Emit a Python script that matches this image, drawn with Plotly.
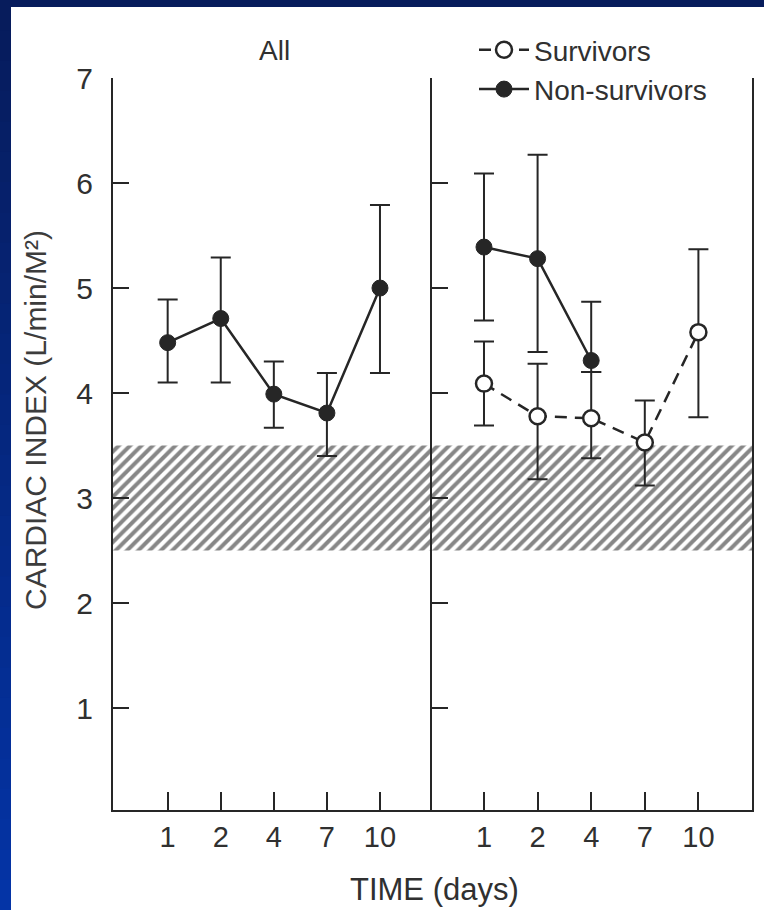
import plotly.graph_objects as go

# ---------------- data ----------------
days = ["1", "2", "4", "7", "10"]

all_mean = [4.48, 4.71, 3.99, 3.81, 5.00]
all_upper = [4.89, 5.29, 4.30, 4.19, 5.79]
all_lower = [4.10, 4.10, 3.67, 3.40, 4.19]

surv_mean = [4.09, 3.78, 3.76, 3.53, 4.58]
surv_upper = [4.49, 4.28, 4.20, 3.93, 5.37]
surv_lower = [3.69, 3.18, 3.38, 3.12, 3.77]

non_days = ["1", "2", "4"]
non_mean = [5.39, 5.28, 4.31]
non_upper = [6.09, 6.27, 4.87]
non_lower = [4.69, 4.39, 4.20]

normal_low = 2.5
normal_high = 3.5

y_ticks = [1, 2, 3, 4, 5, 6, 7]

# ---------------- layout constants ----------------
W, H = 764, 910
INK = "#262626"
TXT = "#303030"
FONT = "Liberation Sans, Arial, Helvetica, sans-serif"

def px_x(p):
    return p / W

def px_y(p):
    return 1 - p / H

xr_left = [-1.03, 4.98]
xr_right = [-0.97, 5.0]
yr = [0.03, 7]

xi = list(range(len(days)))
idx = {d: i for i, d in enumerate(days)}
non_x = [idx[d] for d in non_days]

def err(mean, up, lo):
    return dict(type="data", symmetric=False,
                array=[u - m for u, m in zip(up, mean)],
                arrayminus=[m - l for m, l in zip(mean, lo)],
                color=INK, thickness=2, width=10)

fig = go.Figure()

# hatched normal range in both panels
for xa, ya, xr in (("x", "y", xr_left), ("x2", "y2", xr_right)):
    fig.add_trace(go.Scatter(
        x=[xr[0], xr[1], xr[1], xr[0]],
        y=[normal_low, normal_low, normal_high, normal_high],
        xaxis=xa, yaxis=ya, mode="lines", fill="toself",
        line=dict(width=0, color="rgba(0,0,0,0)"),
        fillpattern=dict(shape="/", size=8, solidity=0.5,
                         fgcolor="#101010", bgcolor="rgba(255,255,255,0)"),
        showlegend=False, hoverinfo="skip"))

# left panel: All
fig.add_trace(go.Scatter(
    x=xi, y=all_mean, xaxis="x", yaxis="y", mode="lines+markers",
    line=dict(color=INK, width=2.5),
    marker=dict(size=16, color=INK, line=dict(width=1, color=INK)),
    error_y=err(all_mean, all_upper, all_lower),
    showlegend=False, name="All"))

# right panel
fig.add_trace(go.Scatter(
    x=xi, y=surv_mean, xaxis="x2", yaxis="y2", mode="lines+markers",
    name="Survivors",
    line=dict(color=INK, width=2.5, dash="12px,8px"),
    marker=dict(size=16, color="white", line=dict(width=2.5, color=INK)),
    error_y=err(surv_mean, surv_upper, surv_lower)))

fig.add_trace(go.Scatter(
    x=non_x, y=non_mean, xaxis="x2", yaxis="y2", mode="lines+markers",
    name="Non-survivors",
    line=dict(color=INK, width=2.5),
    marker=dict(size=16, color=INK, line=dict(width=1, color=INK)),
    error_y=err(non_mean, non_upper, non_lower)))

axis_common = dict(showgrid=False, zeroline=False, showline=True,
                   linecolor=INK, linewidth=2, ticks="inside",
                   tickcolor=INK, tickwidth=2, automargin=False)

xdom_l = [px_x(113), px_x(432)]
xdom_r = [px_x(432), px_x(752)]
ydom = [px_y(810), px_y(78)]

shapes = []
# blue frame
shapes.append(dict(type="rect", xref="paper", yref="paper", x0=0, x1=1,
                   y0=px_y(7), y1=1, fillcolor="#071c5c", line=dict(width=0),
                   layer="below"))
n = 30
for k in range(n):
    t = k / (n - 1)
    r = int(7 + (4 - 7) * t)
    g = int(28 + (52 - 28) * t)
    b = int(92 + (166 - 92) * t)
    shapes.append(dict(type="rect", xref="paper", yref="paper",
                       x0=0, x1=px_x(11),
                       y0=max(0, 1 - (k + 1) / n - 0.004), y1=1 - k / n,
                       fillcolor=f"rgb({r},{g},{b})", line=dict(width=0),
                       layer="below"))

fig.update_layout(
    width=W, height=H, autosize=False,
    margin=dict(l=0, r=0, t=0, b=0, pad=0, autoexpand=False),
    paper_bgcolor="white", plot_bgcolor="rgba(0,0,0,0)",
    font=dict(family=FONT, color=TXT, size=28),
    shapes=shapes,
    xaxis=dict(domain=xdom_l, anchor="y", range=xr_left, tickvals=xi,
               ticktext=days, ticklen=18, tickfont=dict(size=29),
               ticklabelstandoff=0, **axis_common),
    xaxis2=dict(domain=xdom_r, anchor="y2", range=xr_right, tickvals=xi,
                ticktext=days, ticklen=18, tickfont=dict(size=29),
                ticklabelstandoff=0, **axis_common),
    yaxis=dict(domain=ydom, anchor="x", range=yr, tickvals=y_ticks,
               ticklen=16, tickfont=dict(size=30), ticklabelstandoff=12,
               **axis_common),
    yaxis2=dict(domain=ydom, anchor="x2", range=yr, tickvals=y_ticks,
                ticklen=16, showticklabels=False, mirror=True,
                **axis_common),
    legend=dict(x=px_x(474), y=px_y(25), xanchor="left", yanchor="top",
                bgcolor="rgba(0,0,0,0)", font=dict(size=28),
                itemwidth=50, tracegroupgap=0),
    annotations=[
        dict(text="All", x=px_x(274), y=px_y(50), xref="paper", yref="paper",
             xanchor="center", yanchor="middle", showarrow=False,
             font=dict(size=28)),
        dict(text="TIME (days)", x=px_x(434), y=px_y(889), xref="paper",
             yref="paper", xanchor="center", yanchor="middle",
             showarrow=False, font=dict(size=31)),
        dict(text="CARDIAC INDEX (L/min/M²)", x=px_x(35), y=px_y(420),
             xref="paper", yref="paper", xanchor="center", yanchor="middle",
             textangle=-90, showarrow=False,
             font=dict(size=30, color="#3c3c3c")),
    ],
)

post = (
    "document.documentElement.style.margin='0';"
    "document.body.style.margin='0';document.body.style.padding='0';"
    "document.body.style.overflow='hidden';"
    "var gd=document.getElementById('{plot_id}');"
    "gd.style.position='fixed';gd.style.left='0px';gd.style.top='0px';"
)

fig.write_html("out.html", config={"responsive": False, "displayModeBar": False},
               post_script=post)
